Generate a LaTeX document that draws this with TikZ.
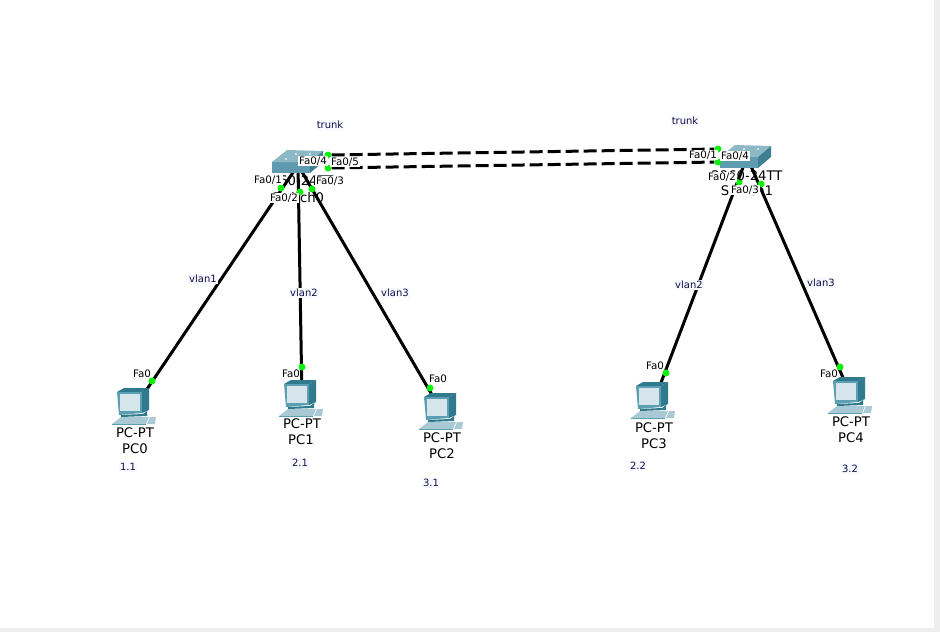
\documentclass[tikz,border=0pt]{standalone}
\usepackage{fontspec}
\setmainfont{DejaVu Sans}
\usetikzlibrary{backgrounds}
\definecolor{swtop}{HTML}{8DB8C6}
\definecolor{swfront}{HTML}{5F9BB0}
\definecolor{swside}{HTML}{3E7F92}
\definecolor{pcbody}{HTML}{5C9FB2}
\definecolor{pcdark}{HTML}{2F7A8C}
\definecolor{pcscreen}{HTML}{D6E5EC}
\definecolor{pckey}{HTML}{A9CAD5}
\definecolor{note}{HTML}{10104A}
\definecolor{notebg}{HTML}{F8F8FF}
\definecolor{portgreen}{HTML}{0CF00C}
\definecolor{page}{HTML}{EEEEEE}
\tikzset{
  port/.style={circle, fill=portgreen, inner sep=0pt, minimum size=7pt},
  cable/.style={black, line width=3pt},
  trunkline/.style={cable, dash pattern=on 13pt off 5pt},
  portlabel/.style={fill=white, inner sep=1pt, font=\fontsize{10.3}{12}\selectfont},
  notelabel/.style={fill=notebg, text=note, inner sep=1pt, font=\fontsize{10}{12}\selectfont},
  devlabel/.style={inner sep=0pt, font=\fontsize{13.2}{14}\selectfont},
  switchicon/.pic={
    \fill[swfront] (0,0) -- (38,0) -- (38,11) -- (0,11) -- cycle;
    \fill[swtop] (0,0) -- (15,-12) -- (51,-11) -- (38,0) -- cycle;
    \fill[swside] (38,0) -- (51,-11) -- (51,0) -- (38,11) -- cycle;
    \foreach \a/\b in {14/-3, 28/-3, 24/-8, 38/-8}
      \fill[white!80!swtop] (\a,\b) circle (1.2);
  },
  pcicon/.pic={
    \fill[pcdark] (-11,-19) -- (-18,-15) -- (7,-15) -- (14,-19) -- cycle;
    \fill[pcbody] (-18,-15) -- (7,-15) -- (7,6) -- (-16,8) -- cycle;
    \fill[pcdark] (7,-15) -- (14,-19) -- (14,3) -- (7,6) -- cycle;
    \fill[pcscreen] (-15,-13) -- (5,-13) -- (5,4) -- (-15,4) -- cycle;
    \fill[pcdark] (-14,8) -- (8,7) -- (12,4) -- (12,9) -- (-14,10) -- cycle;
    \fill[pckey] (-23,17) -- (-14,10) -- (14,10) -- (11,17) -- cycle;
    \fill[pcbody] (-23,17) -- (11,17) -- (11,18) -- (-23,18) -- cycle;
    \fill[pckey] (15,10) -- (21,10) -- (20,17) -- (12,17) -- cycle;
  },
}

\begin{document}
\begin{tikzpicture}[x=1pt, y=-1pt]
  \useasboundingbox (0,0) rectangle (940,632);
  % devices
  \foreach \n/\x/\y/\p/\q in {sw0/298/165/272/162, sw1/747/157/720/157}{
    \node[inner sep=0pt] (\n) at (\x,\y) {};
    \pic at (\p,\q) {switchicon};
  }
  \foreach \n/\x/\y in {pc0/135/407, pc1/302/399, pc2/442/412, pc3/654/401, pc4/851/396}{
    \node[inner sep=0pt] (\n) at (\x,\y) {};
    \pic at (\x,\y) {pcicon};
  }
  % ports
  \foreach \n/\x/\y in {
    a1/281/188, a2/300/192, a3/312/189, a4/328/155, a5/328/168,
    b1/718/149, b2/718/162, b3/739/182, b4/761/184,
    p0/152/381, p1/302/367, p2/430/388, p3/666/373, p4/840/367}{
    \node[port] (\n) at (\x,\y) {};
  }
  % page and cables
  \begin{scope}[on background layer]
    \fill[page] (0,0) rectangle (940,632);
    \fill[white] (0,0) rectangle (934,628);
    \foreach \s/\t in {sw0/pc0, sw0/pc1, sw0/pc2, sw1/pc3, sw1/pc4}{
      \draw[cable] (\s) -- (\t);
    }
    \draw[trunkline] (a4) -- (b1);
    \draw[trunkline] (a5) -- (b2);
  \end{scope}
  % device names
  \foreach \t/\x/\y/\m in {
    2960-24TT/298/181/d0, Switch0/298/198/d1, 2960-24TT/747/176/d2, Switch1/747/191/d3,
    PC-PT/135/433/d4, PC0/135/449/d5, PC-PT/302/424/d6, PC1/301/440/d7,
    PC-PT/442/438/d8, PC2/442/454/d9, PC-PT/654/428/d10, PC3/654/444/d11,
    PC-PT/851/422/d12, PC4/851/438/d13}{
    \node[devlabel] (\m) at (\x,\y) {\t};
  }
  % port labels
  \foreach \t/\x/\y/\m in {
    1/268/180/l0, 2/284/198/l1, 3/330/181/l2, 4/313/161/l3, 5/345/162/l4,
    1/703/155/l5, 4/735/156/l6, 2/722/177/l7, 3/745/190/l8}{
    \node[portlabel] (\m) at (\x,\y) {Fa0/\t};
  }
  \foreach \x/\y/\m in {142/374/f0, 291/374/f1, 438/379/f2, 655/366/f3, 829/374/f4}{
    \node[portlabel, fill=none] (\m) at (\x,\y) {Fa0};
  }
  % notes
  \foreach \t/\x/\y/\m in {
    trunk/330/125/n0, trunk/685/121/n1,
    vlan1/203/279/n2, vlan2/304/293/n3, vlan3/395/293/n4, vlan2/689/285/n5, vlan3/821/283/n6,
    1.1/128/467/n7, 2.1/300/463/n8, 3.1/431/483/n9, 2.2/638/466/n10, 3.2/850/469/n11}{
    \node[notelabel] (\m) at (\x,\y) {\t};
  }
\end{tikzpicture}
\end{document}
